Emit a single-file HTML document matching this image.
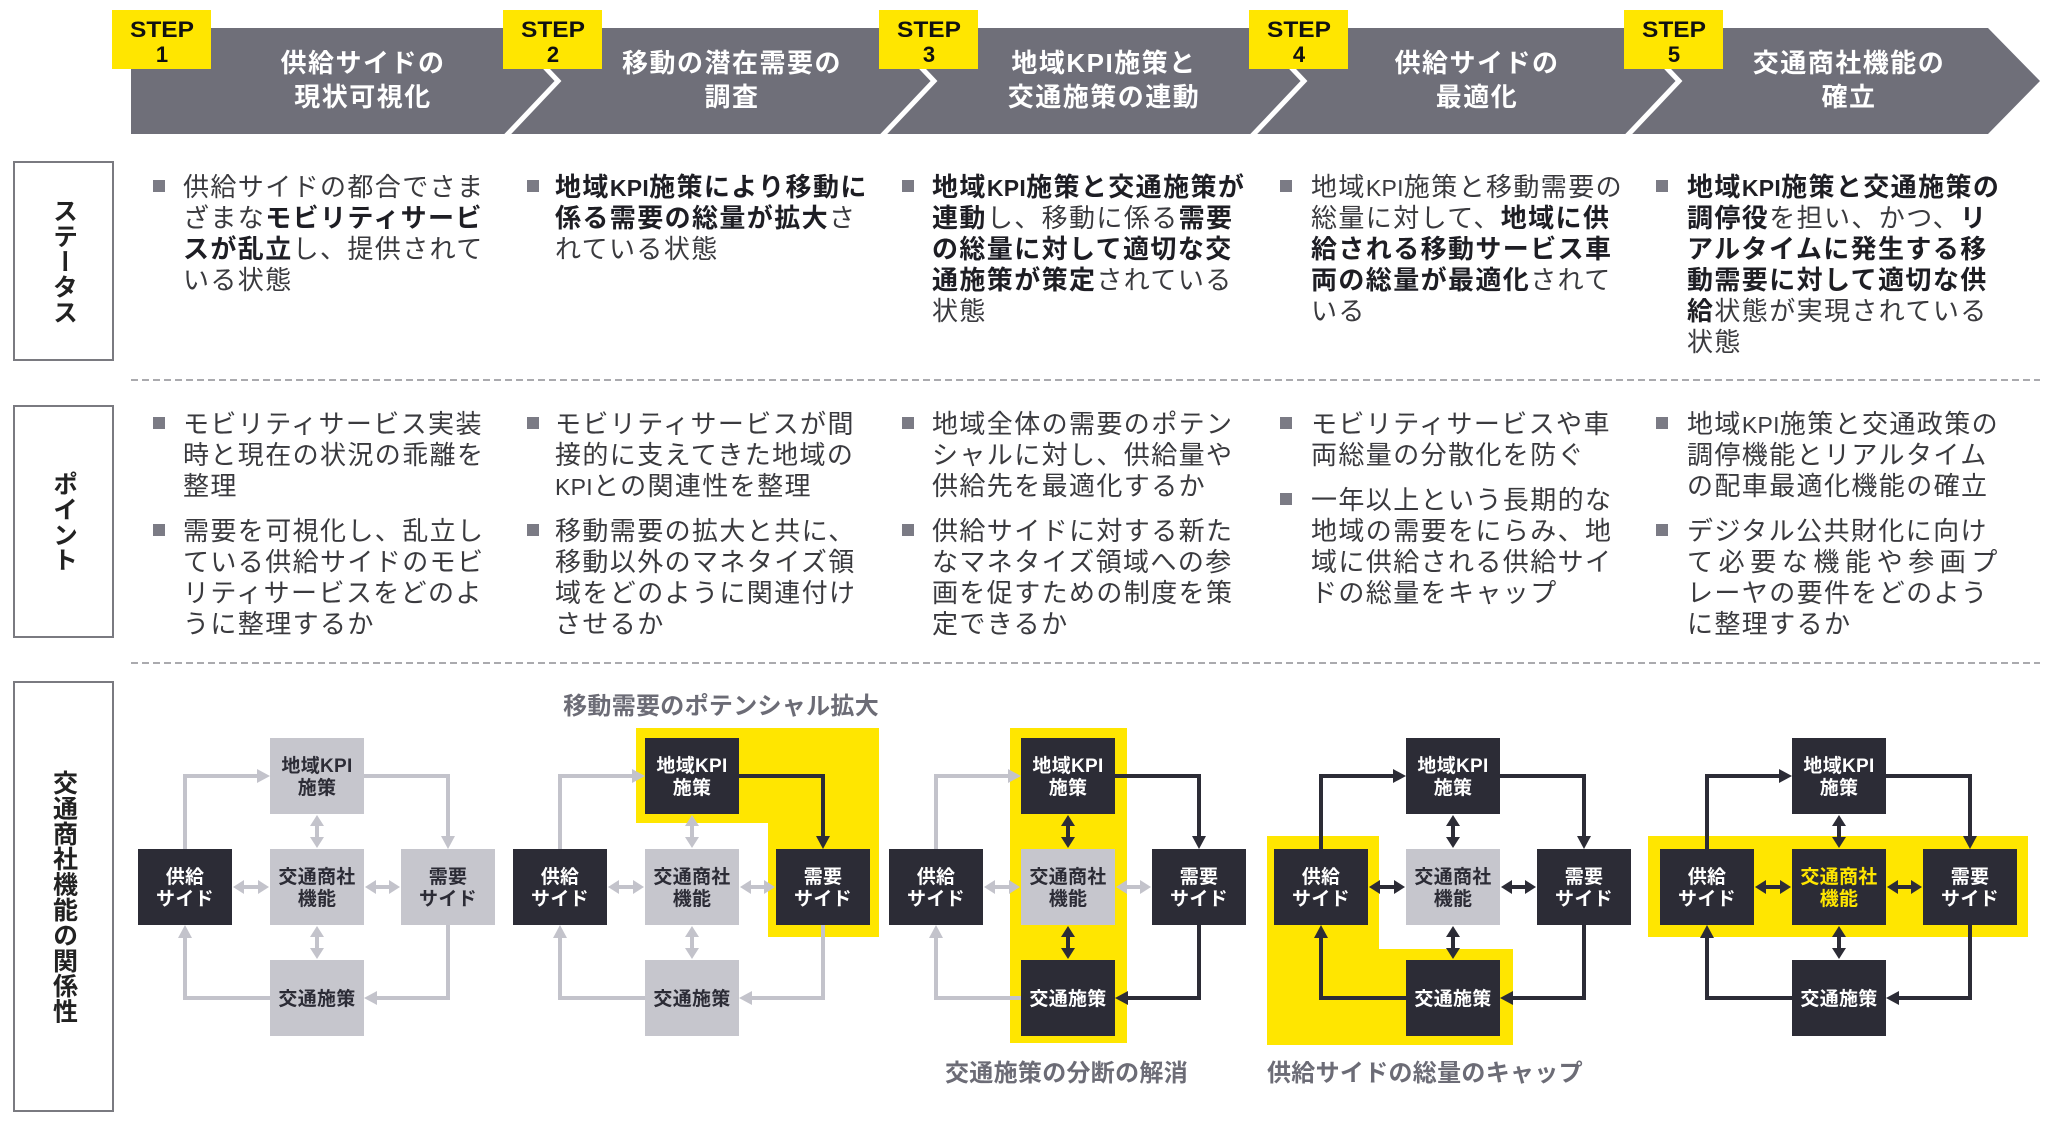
<!DOCTYPE html>
<html><head><meta charset="utf-8">
<style>
html,body{margin:0;padding:0;background:#fff;}
body{width:2048px;height:1122px;overflow:hidden;position:relative;font-family:"Liberation Sans","Noto Sans CJK JP",sans-serif;}
svg{position:absolute;left:0;top:0;}
.lab{position:absolute;left:13px;width:101px;box-sizing:border-box;border:2px solid #7a7a80;display:flex;align-items:center;justify-content:center;}
.lab span{writing-mode:vertical-rl;text-orientation:upright;font-size:25px;font-weight:bold;color:#222;letter-spacing:0.4px;font-family:"Liberation Sans","Noto Sans CJK JP",sans-serif;}
.t{font-size:26px;fill:#3a3a3e;letter-spacing:1.4px;}
.t tspan.b{font-weight:bold;fill:#1e1e24;}
.kpi{letter-spacing:0.3px;font-size:23px;}
.k{fill:#2c2c36}.g{fill:#c6c6cd}
.Lk{stroke:#2c2c36;fill:none;stroke-width:4}.Lg{stroke:#c3c3cb;fill:none;stroke-width:4}
.Fk{fill:#2c2c36}.Fg{fill:#c3c3cb}
.bw{fill:#fff;font-size:19px;font-weight:bold;text-anchor:middle;letter-spacing:0.3px}
.bd{fill:#2c2c36;font-size:19px;font-weight:bold;text-anchor:middle;letter-spacing:0.3px}
.by{fill:#FFE600;font-size:19px;font-weight:bold;text-anchor:middle;letter-spacing:0.3px}
.ttl{fill:#fff;font-size:26px;font-weight:bold;text-anchor:middle;letter-spacing:1.5px}
.stp{fill:#111;font-size:22px;font-weight:bold;text-anchor:middle}
.cap{fill:#6c6c76;font-size:24px;font-weight:bold;letter-spacing:0.3px}
.bul{fill:#7b7b85}
</style></head>
<body>
<svg width="2048" height="1122" viewBox="0 0 2048 1122" xmlns="http://www.w3.org/2000/svg" font-family="Liberation Sans, Noto Sans CJK JP, sans-serif">
<!-- HEADER -->
<polygon points="131,28 1988,28 2040,81 1988,134 131,134" fill="#6f6f79"/>
<g stroke="#fff" stroke-width="5" fill="none" stroke-linejoin="miter">
<polyline points="504,24 558,81 504,138"/>
<polyline points="880,24 934,81 880,138"/>
<polyline points="1250,24 1304,81 1250,138"/>
<polyline points="1625,24 1679,81 1625,138"/>
</g>
<g fill="#FFE600">
<rect x="112" y="10" width="99" height="59"/>
<rect x="503" y="10" width="99" height="59"/>
<rect x="879" y="10" width="99" height="59"/>
<rect x="1249" y="10" width="99" height="59"/>
<rect x="1624" y="10" width="99" height="59"/>
</g>
<g class="stp">
<text x="162" y="37" textLength="64" lengthAdjust="spacingAndGlyphs">STEP</text><text x="162" y="62">1</text>
<text x="553" y="37" textLength="64" lengthAdjust="spacingAndGlyphs">STEP</text><text x="553" y="62">2</text>
<text x="929" y="37" textLength="64" lengthAdjust="spacingAndGlyphs">STEP</text><text x="929" y="62">3</text>
<text x="1299" y="37" textLength="64" lengthAdjust="spacingAndGlyphs">STEP</text><text x="1299" y="62">4</text>
<text x="1674" y="37" textLength="64" lengthAdjust="spacingAndGlyphs">STEP</text><text x="1674" y="62">5</text>
</g>
<g class="ttl">
<text x="363" y="72">供給サイドの</text><text x="363" y="106">現状可視化</text>
<text x="732" y="72">移動の潜在需要の</text><text x="732" y="106">調査</text>
<text x="1104" y="72">地域KPI施策と</text><text x="1104" y="106">交通施策の連動</text>
<text x="1477" y="72">供給サイドの</text><text x="1477" y="106">最適化</text>
<text x="1849" y="72">交通商社機能の</text><text x="1849" y="106">確立</text>
</g>

<!-- DASHED LINES -->
<g stroke="#8e8e94" stroke-width="1.6" stroke-dasharray="7 4">
<line x1="131" y1="380" x2="2040" y2="380"/>
<line x1="131" y1="663" x2="2040" y2="663"/>
</g>

<!-- BULLETS -->
<g class="bul">
<rect x="153" y="180" width="12" height="12"/>
<rect x="527" y="180" width="12" height="12"/>
<rect x="902" y="180" width="12" height="12"/>
<rect x="1280" y="180" width="12" height="12"/>
<rect x="1656" y="180" width="12" height="12"/>
<rect x="153" y="417" width="12" height="12"/>
<rect x="527" y="417" width="12" height="12"/>
<rect x="902" y="417" width="12" height="12"/>
<rect x="1280" y="417" width="12" height="12"/>
<rect x="1656" y="417" width="12" height="12"/>
<rect x="153" y="524" width="12" height="12"/>
<rect x="527" y="524" width="12" height="12"/>
<rect x="902" y="524" width="12" height="12"/>
<rect x="1280" y="493" width="12" height="12"/>
<rect x="1656" y="524" width="12" height="12"/>
</g>

<!-- STATUS TEXT -->
<g class="t">
<text x="183" y="196">供給サイドの都合でさま</text>
<text x="183" y="227">ざまな<tspan class="b">モビリティサービ</tspan></text>
<text x="183" y="258"><tspan class="b">スが乱立</tspan>し、提供されて</text>
<text x="183" y="289">いる状態</text>

<text x="555" y="196"><tspan class="b">地域<tspan class="kpi">KPI</tspan>施策により移動に</tspan></text>
<text x="555" y="227"><tspan class="b">係る需要の総量が拡大</tspan>さ</text>
<text x="555" y="258">れている状態</text>

<text x="932" y="196"><tspan class="b">地域<tspan class="kpi">KPI</tspan>施策と交通施策が</tspan></text>
<text x="932" y="227"><tspan class="b">連動</tspan>し、移動に係る<tspan class="b">需要</tspan></text>
<text x="932" y="258"><tspan class="b">の総量に対して適切な交</tspan></text>
<text x="932" y="289"><tspan class="b">通施策が策定</tspan>されている</text>
<text x="932" y="320">状態</text>

<text x="1311" y="196">地域<tspan class="kpi">KPI</tspan>施策と移動需要の</text>
<text x="1311" y="227">総量に対して、<tspan class="b">地域に供</tspan></text>
<text x="1311" y="258"><tspan class="b">給される移動サービス車</tspan></text>
<text x="1311" y="289"><tspan class="b">両の総量が最適化</tspan>されて</text>
<text x="1311" y="320">いる</text>

<text x="1687" y="196"><tspan class="b">地域<tspan class="kpi">KPI</tspan>施策と交通施策の</tspan></text>
<text x="1687" y="227"><tspan class="b">調停役</tspan>を担い、かつ、<tspan class="b">リ</tspan></text>
<text x="1687" y="258"><tspan class="b">アルタイムに発生する移</tspan></text>
<text x="1687" y="289"><tspan class="b">動需要に対して適切な供</tspan></text>
<text x="1687" y="320"><tspan class="b">給</tspan>状態が実現されている</text>
<text x="1687" y="351">状態</text>
</g>

<!-- POINT TEXT -->
<g class="t">
<text x="183" y="433">モビリティサービス実装</text>
<text x="183" y="464">時と現在の状況の乖離を</text>
<text x="183" y="495">整理</text>
<text x="183" y="540">需要を可視化し、乱立し</text>
<text x="183" y="571">ている供給サイドのモビ</text>
<text x="183" y="602">リティサービスをどのよ</text>
<text x="183" y="633">うに整理するか</text>

<text x="555" y="433">モビリティサービスが間</text>
<text x="555" y="464">接的に支えてきた地域の</text>
<text x="555" y="495"><tspan class="kpi">KPI</tspan>との関連性を整理</text>
<text x="555" y="540">移動需要の拡大と共に、</text>
<text x="555" y="571">移動以外のマネタイズ領</text>
<text x="555" y="602">域をどのように関連付け</text>
<text x="555" y="633">させるか</text>

<text x="932" y="433">地域全体の需要のポテン</text>
<text x="932" y="464">シャルに対し、供給量や</text>
<text x="932" y="495">供給先を最適化するか</text>
<text x="932" y="540">供給サイドに対する新た</text>
<text x="932" y="571">なマネタイズ領域への参</text>
<text x="932" y="602">画を促すための制度を策</text>
<text x="932" y="633">定できるか</text>

<text x="1311" y="433">モビリティサービスや車</text>
<text x="1311" y="464">両総量の分散化を防ぐ</text>
<text x="1311" y="509">一年以上という長期的な</text>
<text x="1311" y="540">地域の需要をにらみ、地</text>
<text x="1311" y="571">域に供給される供給サイ</text>
<text x="1311" y="602">ドの総量をキャップ</text>

<text x="1687" y="433">地域<tspan class="kpi">KPI</tspan>施策と交通政策の</text>
<text x="1687" y="464">調停機能とリアルタイム</text>
<text x="1687" y="495">の配車最適化機能の確立</text>
<text x="1687" y="540">デジタル公共財化に向け</text>
<text x="1687" y="571" style="letter-spacing:5.6px">て必要な機能や参画プ</text>
<text x="1687" y="602">レーヤの要件をどのよう</text>
<text x="1687" y="633">に整理するか</text>
</g>

<!-- YELLOW HIGHLIGHTS -->
<g fill="#FFE600">
<path d="M636 728H879V937H768V823H636Z"/>
<rect x="1010" y="728" width="117" height="315"/>
<path d="M1267 836H1379V949H1513V1045H1267Z"/>
<rect x="1648" y="836" width="380" height="101"/>
</g>

<!-- CAPTIONS -->
<text class="cap" x="879" y="714" text-anchor="end">移動需要のポテンシャル拡大</text>
<text class="cap" x="945" y="1081">交通施策の分断の解消</text>
<text class="cap" x="1267" y="1081">供給サイドの総量のキャップ</text>

<!-- DIAGRAM 1 -->
<g transform="translate(138 0)">
<rect class="k" x="0" y="849" width="94" height="76"/>
<rect class="g" x="132" y="738" width="94" height="76"/>
<rect class="g" x="132" y="849" width="94" height="76"/>
<rect class="g" x="263" y="849" width="94" height="76"/>
<rect class="g" x="132" y="960" width="94" height="76"/>
<text class="bw" x="47" y="883">供給</text><text class="bw" x="47" y="905">サイド</text>
<text class="bd" x="179" y="772">地域KPI</text><text class="bd" x="179" y="794">施策</text>
<text class="bd" x="179" y="883">交通商社</text><text class="bd" x="179" y="905">機能</text>
<text class="bd" x="310" y="883">需要</text><text class="bd" x="310" y="905">サイド</text>
<text class="bd" x="179" y="1005">交通施策</text>
<path class="Lg" d="M47 849V776H120"/><polygon class="Fg" points="132,776 119,769 119,783"/>
<path class="Lg" d="M226 776H310V837"/><polygon class="Fg" points="310,849 303,836 317,836"/>
<path class="Lg" d="M310 925V998H238"/><polygon class="Fg" points="226,998 239,991 239,1005"/>
<path class="Lg" d="M132 998H47V937"/><polygon class="Fg" points="47,925 40,938 54,938"/>
<path class="Lg" d="M105 887H121"/><polygon class="Fg" points="95,887 106,880 106,894"/><polygon class="Fg" points="131,887 120,880 120,894"/>
<path class="Lg" d="M237 887H252"/><polygon class="Fg" points="227,887 238,880 238,894"/><polygon class="Fg" points="262,887 251,880 251,894"/>
<path class="Lg" d="M179 825V838"/><polygon class="Fg" points="179,815 172,826 186,826"/><polygon class="Fg" points="179,848 172,837 186,837"/>
<path class="Lg" d="M179 936V949"/><polygon class="Fg" points="179,926 172,937 186,937"/><polygon class="Fg" points="179,959 172,948 186,948"/>
</g>

<!-- DIAGRAM 2 -->
<g transform="translate(513 0)">
<rect class="k" x="0" y="849" width="94" height="76"/>
<rect class="k" x="132" y="738" width="94" height="76"/>
<rect class="g" x="132" y="849" width="94" height="76"/>
<rect class="k" x="263" y="849" width="94" height="76"/>
<rect class="g" x="132" y="960" width="94" height="76"/>
<text class="bw" x="47" y="883">供給</text><text class="bw" x="47" y="905">サイド</text>
<text class="bw" x="179" y="772">地域KPI</text><text class="bw" x="179" y="794">施策</text>
<text class="bd" x="179" y="883">交通商社</text><text class="bd" x="179" y="905">機能</text>
<text class="bw" x="310" y="883">需要</text><text class="bw" x="310" y="905">サイド</text>
<text class="bd" x="179" y="1005">交通施策</text>
<path class="Lg" d="M47 849V776H120"/><polygon class="Fg" points="132,776 119,769 119,783"/>
<path class="Lk" d="M226 776H310V837"/><polygon class="Fk" points="310,849 303,836 317,836"/>
<path class="Lg" d="M310 925V998H238"/><polygon class="Fg" points="226,998 239,991 239,1005"/>
<path class="Lg" d="M132 998H47V937"/><polygon class="Fg" points="47,925 40,938 54,938"/>
<path class="Lg" d="M105 887H121"/><polygon class="Fg" points="95,887 106,880 106,894"/><polygon class="Fg" points="131,887 120,880 120,894"/>
<path class="Lg" d="M237 887H252"/><polygon class="Fg" points="227,887 238,880 238,894"/><polygon class="Fg" points="262,887 251,880 251,894"/>
<path class="Lg" d="M179 825V838"/><polygon class="Fg" points="179,815 172,826 186,826"/><polygon class="Fg" points="179,848 172,837 186,837"/>
<path class="Lg" d="M179 936V949"/><polygon class="Fg" points="179,926 172,937 186,937"/><polygon class="Fg" points="179,959 172,948 186,948"/>
</g>

<!-- DIAGRAM 3 -->
<g transform="translate(889 0)">
<rect class="k" x="0" y="849" width="94" height="76"/>
<rect class="k" x="132" y="738" width="94" height="76"/>
<rect class="g" x="132" y="849" width="94" height="76"/>
<rect class="k" x="263" y="849" width="94" height="76"/>
<rect class="k" x="132" y="960" width="94" height="76"/>
<text class="bw" x="47" y="883">供給</text><text class="bw" x="47" y="905">サイド</text>
<text class="bw" x="179" y="772">地域KPI</text><text class="bw" x="179" y="794">施策</text>
<text class="bd" x="179" y="883">交通商社</text><text class="bd" x="179" y="905">機能</text>
<text class="bw" x="310" y="883">需要</text><text class="bw" x="310" y="905">サイド</text>
<text class="bw" x="179" y="1005">交通施策</text>
<path class="Lg" d="M47 849V776H120"/><polygon class="Fg" points="132,776 119,769 119,783"/>
<path class="Lk" d="M226 776H310V837"/><polygon class="Fk" points="310,849 303,836 317,836"/>
<path class="Lk" d="M310 925V998H238"/><polygon class="Fk" points="226,998 239,991 239,1005"/>
<path class="Lg" d="M132 998H47V937"/><polygon class="Fg" points="47,925 40,938 54,938"/>
<path class="Lg" d="M105 887H121"/><polygon class="Fg" points="95,887 106,880 106,894"/><polygon class="Fg" points="131,887 120,880 120,894"/>
<path class="Lg" d="M237 887H252"/><polygon class="Fg" points="227,887 238,880 238,894"/><polygon class="Fg" points="262,887 251,880 251,894"/>
<path class="Lk" d="M179 825V838"/><polygon class="Fk" points="179,815 172,826 186,826"/><polygon class="Fk" points="179,848 172,837 186,837"/>
<path class="Lk" d="M179 936V949"/><polygon class="Fk" points="179,926 172,937 186,937"/><polygon class="Fk" points="179,959 172,948 186,948"/>
</g>

<!-- DIAGRAM 4 -->
<g transform="translate(1274 0)">
<rect class="k" x="0" y="849" width="94" height="76"/>
<rect class="k" x="132" y="738" width="94" height="76"/>
<rect class="g" x="132" y="849" width="94" height="76"/>
<rect class="k" x="263" y="849" width="94" height="76"/>
<rect class="k" x="132" y="960" width="94" height="76"/>
<text class="bw" x="47" y="883">供給</text><text class="bw" x="47" y="905">サイド</text>
<text class="bw" x="179" y="772">地域KPI</text><text class="bw" x="179" y="794">施策</text>
<text class="bd" x="179" y="883">交通商社</text><text class="bd" x="179" y="905">機能</text>
<text class="bw" x="310" y="883">需要</text><text class="bw" x="310" y="905">サイド</text>
<text class="bw" x="179" y="1005">交通施策</text>
<path class="Lk" d="M47 849V776H120"/><polygon class="Fk" points="132,776 119,769 119,783"/>
<path class="Lk" d="M226 776H310V837"/><polygon class="Fk" points="310,849 303,836 317,836"/>
<path class="Lk" d="M310 925V998H238"/><polygon class="Fk" points="226,998 239,991 239,1005"/>
<path class="Lk" d="M132 998H47V937"/><polygon class="Fk" points="47,925 40,938 54,938"/>
<path class="Lk" d="M105 887H121"/><polygon class="Fk" points="95,887 106,880 106,894"/><polygon class="Fk" points="131,887 120,880 120,894"/>
<path class="Lk" d="M237 887H252"/><polygon class="Fk" points="227,887 238,880 238,894"/><polygon class="Fk" points="262,887 251,880 251,894"/>
<path class="Lk" d="M179 825V838"/><polygon class="Fk" points="179,815 172,826 186,826"/><polygon class="Fk" points="179,848 172,837 186,837"/>
<path class="Lk" d="M179 936V949"/><polygon class="Fk" points="179,926 172,937 186,937"/><polygon class="Fk" points="179,959 172,948 186,948"/>
</g>

<!-- DIAGRAM 5 -->
<g transform="translate(1660 0)">
<rect class="k" x="0" y="849" width="94" height="76"/>
<rect class="k" x="132" y="738" width="94" height="76"/>
<rect class="k" x="132" y="849" width="94" height="76"/>
<rect class="k" x="263" y="849" width="94" height="76"/>
<rect class="k" x="132" y="960" width="94" height="76"/>
<text class="bw" x="47" y="883">供給</text><text class="bw" x="47" y="905">サイド</text>
<text class="bw" x="179" y="772">地域KPI</text><text class="bw" x="179" y="794">施策</text>
<text class="by" x="179" y="883">交通商社</text><text class="by" x="179" y="905">機能</text>
<text class="bw" x="310" y="883">需要</text><text class="bw" x="310" y="905">サイド</text>
<text class="bw" x="179" y="1005">交通施策</text>
<path class="Lk" d="M47 849V776H120"/><polygon class="Fk" points="132,776 119,769 119,783"/>
<path class="Lk" d="M226 776H310V837"/><polygon class="Fk" points="310,849 303,836 317,836"/>
<path class="Lk" d="M310 925V998H238"/><polygon class="Fk" points="226,998 239,991 239,1005"/>
<path class="Lk" d="M132 998H47V937"/><polygon class="Fk" points="47,925 40,938 54,938"/>
<path class="Lk" d="M105 887H121"/><polygon class="Fk" points="95,887 106,880 106,894"/><polygon class="Fk" points="131,887 120,880 120,894"/>
<path class="Lk" d="M237 887H252"/><polygon class="Fk" points="227,887 238,880 238,894"/><polygon class="Fk" points="262,887 251,880 251,894"/>
<path class="Lk" d="M179 825V838"/><polygon class="Fk" points="179,815 172,826 186,826"/><polygon class="Fk" points="179,848 172,837 186,837"/>
<path class="Lk" d="M179 936V949"/><polygon class="Fk" points="179,926 172,937 186,937"/><polygon class="Fk" points="179,959 172,948 186,948"/>
</g>
</svg>

<div class="lab" style="top:161px;height:200px;"><span>ステータス</span></div>
<div class="lab" style="top:405px;height:233px;"><span>ポイント</span></div>
<div class="lab" style="top:681px;height:431px;"><span>交通商社機能の関係性</span></div>
</body></html>
